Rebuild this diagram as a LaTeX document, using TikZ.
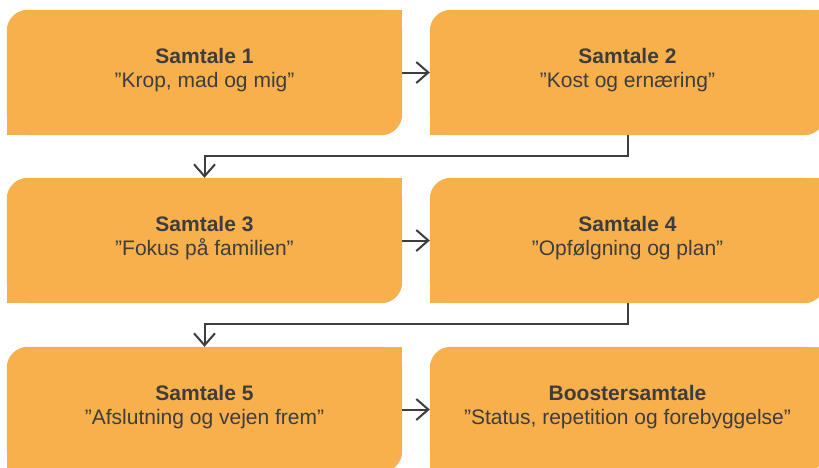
\documentclass[tikz,border=0pt]{standalone}
\usepackage{fontspec}
\setmainfont{Liberation Sans}
\usepackage{xcolor}
\usetikzlibrary{positioning, arrows.meta, backgrounds}

\definecolor{boxorange}{HTML}{F8B04D}
\definecolor{linegray}{HTML}{3E3D3C}

\begin{document}
\begin{tikzpicture}[x=1pt, y=1pt,
        samtale/.style={rectangle, minimum width=395pt, minimum height=125pt, inner sep=0pt,
            align=center, text=linegray, text depth=10pt, font=\fontsize{21}{24}\selectfont},
        pil/.style={draw=linegray, line width=2pt, -{Straight Barb[length=12pt, width=21pt, line width=2pt]}}]
    \useasboundingbox (0, 0) rectangle (819, -467);
    \clip (0, 0) rectangle (819, -467);

    \node[samtale] (s1) at (204.5, -72.5) {\textbf{Samtale 1}\\”Krop, mad og mig”};
    \node[samtale] (s2) at (627.5, -72.5) {\textbf{Samtale 2}\\”Kost og ernæring”};
    \node[samtale] (s3) at (204.5, -240.5) {\textbf{Samtale 3}\\”Fokus på familien”};
    \node[samtale] (s4) at (627.5, -240.5) {\textbf{Samtale 4}\\”Opfølgning og plan”};
    \node[samtale] (s5) at (204.5, -409.5) {\textbf{Samtale 5}\\”Afslutning og vejen frem”};
    \node[samtale] (s6) at (627.5, -409.5) {\textbf{Boostersamtale}\\”Status, repetition og forebyggelse”};

    % boxes: round top left and bottom right corner only
    \begin{scope}[on background layer]
        \foreach \n in {s1, s2, s3, s4, s5, s6} {
            \fill[boxorange, rounded corners=21pt] (\n.south west) rectangle (\n.north east);
            \fill[boxorange] (\n.north east) rectangle ++(-30, -30);
            \fill[boxorange] (\n.south west) rectangle ++(30, 30);
        }
    \end{scope}

    \draw[pil] (s1) -- (s2);
    \draw[pil] (s3) -- (s4);
    \draw[pil] (s5) -- (s6);
    \draw[pil] (s2.south) -- ++(0, -21) -| (s3.north);
    \draw[pil] (s4.south) -- ++(0, -21) -| (s5.north);
\end{tikzpicture}
\end{document}
